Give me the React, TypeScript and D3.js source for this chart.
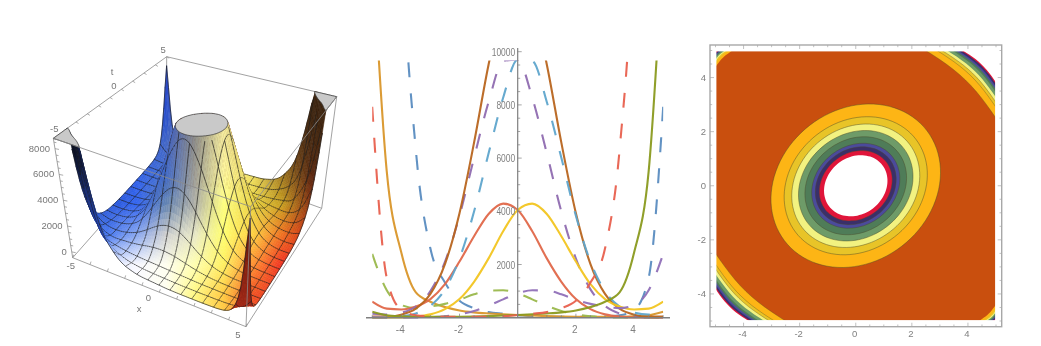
import React, { useMemo } from "react";
import * as d3 from "d3";

// ---------- data: slices of the field f(x, t), sampled every 0.5 in x ----------
const xSamples = [-5,-4.5,-4,-3.5,-3,-2.5,-2,-1.5,-1,-0.5,0,0.5,1,1.5,2,2.5,3,3.5,4,4.5,5];
const tValues = [-5,-4,-3,-2,-1,0,1,2,3,4,5];
const sliceM5 = [90000,37000,15000,6300,2600,1320,640,360,210,150,100,50,35,30,30,35,50,90,290,1500,7930];
const sliceM4 = [14000,5500,2450,950,600,400,270,200,160,130,100,80,60,45,35,30,30,35,50,90,225];
const sliceM3 = [2400,1030,480,360,420,520,680,880,1020,1030,915,690,450,255,125,55,20,10,8,10,15];
const sliceM2 = [600,340,310,420,700,1260,2110,3060,3900,4290,4050,3250,2230,1350,700,320,125,40,12,5,3];
const sliceM1 = [150,120,190,420,1000,2100,3830,6010,8110,9650,9700,8270,6180,3990,2225,1065,444,157,49,14,4];
const slice0 = [40,40,115,345,895,2015,3930,6580,9520,11890,12800,11890,9520,6580,3930,2015,895,345,115,40,40];
const sliceP1 = [4,14,49,157,444,1065,2225,3990,6180,8270,9700,9650,8110,6010,3830,2100,1000,420,190,120,150];
const sliceP2 = [3,5,12,40,125,320,700,1350,2230,3250,4050,4290,3900,3060,2110,1260,700,420,310,340,600];
const sliceP3 = [15,10,8,10,20,55,125,255,450,690,915,1030,1020,880,680,520,420,360,480,1030,2400];
const sliceP4 = [225,90,50,35,30,30,35,45,60,80,100,130,160,200,270,400,600,950,2450,5500,14000];
const sliceP5 = [7930,1500,290,90,50,35,30,30,35,50,100,150,210,360,640,1320,2600,6300,15000,37000,90000];
const slices = [sliceM5,sliceM4,sliceM3,sliceM2,sliceM1,slice0,sliceP1,sliceP2,sliceP3,sliceP4,sliceP5];
const sliceColors = ["#5A8CC0","#D9962A","#9AB84C","#E0684A","#8F6BB0","#B8651F","#5FA5CC","#F2C521","#9070B8","#8A9A1F","#E8604E"];
const sliceDashed = [true,false,true,false,true,false,true,false,true,false,true];

// contour plot: how far each level reaches (top of ring, along the edge in corners)
const ringReach = [3.02,2.55,2.28,2.04,1.81,1.57,1.44,1.3,1.13];
const bandColors = ["#FDB515","#E8C428","#F2F280","#6E9B68","#4F7C58","#4B4A9C","#3A2F6A","#E0153A","#FFFFFF"];
const wideCornerReach = [2.5,2.9,3.08,3.26,3.44,3.55,3.65,3.75,3.82];
const smallCornerReach = [4.39,4.52,4.6,4.66,4.72,4.78,4.83,4.88,4.94];
const bottomCornerColor = "#C94F0E";

const axisTicksPanel2X = [-4,-2,2,4];
const axisTicksPanel2Y = [2000,4000,6000,8000,10000];
const axisTicksPanel3 = [-4,-2,0,2,4];
const zTicks3D = [0,2000,4000,6000,8000];

// ---------- 3D frame ----------
const Z_MIN = -450, Z_MAX = 8800;
const box = {
  lb: [72.7,257.7], fb: [246,326.7], rb: [321.7,208.3], bb: [166,152],
  lt: [53.3,138.3], bt: [166.7,56.7], rt: [336.7,96.7], ft: [250.7,206.7],
};
function project(x:number,t:number,z:number):[number,number]{
  const u=(x+5)/10,v=(t+5)/10,w=(z-Z_MIN)/(Z_MAX-Z_MIN);
  const m=(a:number[],b:number[],s:number,i:number)=>a[i]+(b[i]-a[i])*s;
  const out:[number,number]=[0,0];
  for(let i=0;i<2;i++){
    const bottomFront=m(box.lb,box.fb,u,i), bottomBack=m(box.bb,box.rb,u,i);
    const topFront=m(box.lt,box.ft,u,i), topBack=m(box.bt,box.rt,u,i);
    const low=bottomFront+(bottomBack-bottomFront)*v, high=topFront+(topBack-topFront)*v;
    out[i]=low+(high-low)*w;
  }
  return out;
}

// screen-space tint sampled across the surface picture
const tintX=[50,79,108,137,166,195,224,253,282,311,340];
const tintY=[55,85,115,145,175,205,235,265,295,325];
const tintRows=[
"#1a2a60 #1a2a60 #2040a0 #2848c0 #2040b0 #c8c8c8 #f8f0a0 #c0a040 #5a3a18 #3a2410 #3a2410",
"#1a2a60 #1a2a60 #2040a0 #2848c0 #2848c8 #a0a0a0 #f8f0a0 #c0a040 #5a3a18 #3a2410 #3a2410",
"#101828 #101828 #2040a0 #2848c0 #2850d0 #8a8a88 #f4eca0 #c0a040 #5a3a18 #3c2410 #3a2008",
"#101830 #101830 #1a3090 #2850d8 #4468c8 #90908c #f8f0a0 #d8c050 #704818 #4a2a10 #3a1c08",
"#182448 #182c70 #2040b0 #3060e8 #4470d0 #a0a098 #fff8a0 #f0e060 #a07820 #5a2810 #4a1c08",
"#2040a0 #2040a0 #2a58d8 #3264f0 #6484b0 #b0b0a8 #ffff80 #e8d040 #c8a020 #8a3010 #6a2008",
"#4070e0 #4070e0 #4878f0 #8aa8f0 #d0d0d0 #e8e8c8 #ffff70 #ffd040 #f07020 #c82810 #a02010",
"#c0d0ff #c0d0ff #e0e8ff #f8f8ff #fffff0 #ffffb0 #fff060 #ff9030 #f03020 #e02818 #c02010",
"#ffffff #ffffff #ffffff #ffffff #fffff0 #fff880 #ffc840 #f05020 #e83020 #e02818 #c02010",
"#ffffff #ffffff #ffffff #ffffff #fffff0 #fff880 #ffc840 #f05020 #e83020 #e02818 #c02010",
].map(r=>r.split(" ").map(c=>d3.rgb(c)));
function tint(px:number,py:number){
  const fx=Math.max(0,Math.min(tintX.length-1.001,(px-tintX[0])/(tintX[1]-tintX[0])));
  const fy=Math.max(0,Math.min(tintY.length-1.001,(py-tintY[0])/(tintY[1]-tintY[0])));
  const i=Math.floor(fx),j=Math.floor(fy),a=fx-i,b=fy-j;
  const mix=(k:"r"|"g"|"b")=>(tintRows[j][i][k]*(1-a)+tintRows[j][i+1][k]*a)*(1-b)+(tintRows[j+1][i][k]*(1-a)+tintRows[j+1][i+1][k]*a)*b;
  return `rgb(${mix("r")|0},${mix("g")|0},${mix("b")|0})`;
}

function cr(p0:number,p1:number,p2:number,p3:number,s:number){
  return 0.5*((2*p1)+(-p0+p2)*s+(2*p0-5*p1+4*p2-p3)*s*s+(-p0+3*p1-3*p2+p3)*s*s*s);
}
const logRows=slices.map(r=>r.map(v=>Math.log(v)));
function rowAt(r:number[],x:number){
  const f=(x+5)/0.5; const i=Math.min(r.length-2,Math.floor(f)); const s=f-i;
  const g=(k:number)=>r[Math.max(0,Math.min(r.length-1,k))];
  return cr(g(i-1),g(i),g(i+1),g(i+2),s);
}
function fieldAt(x:number,t:number){
  const f=t+5; const i=Math.min(9,Math.floor(f)); const s=f-i;
  const g=(k:number)=>rowAt(logRows[Math.max(0,Math.min(10,k))],x);
  return Math.exp(cr(g(i-1),g(i),g(i+1),g(i+2),s));
}

function Surface(){
  const N=80, MESH=5;
  const {items,caps}=useMemo(()=>{
    const Z:number[][]=[];const P:[number,number][][]=[];
    const flat:number[]=[];
    for(let i=0;i<=N;i++){
      Z.push([]);P.push([]);
      const t=-5+10*i/N;
      for(let j=0;j<=N;j++){
        const x=-5+10*j/N;
        const z=fieldAt(x,t);
        Z[i].push(z);flat.push(z);
        P[i].push(project(x,t,Math.min(z,Z_MAX)));
      }
    }
    const list:{k:number,el:any}[]=[];
    const pth=(pts:[number,number][])=>"M"+pts.map(p=>p[0].toFixed(1)+","+p[1].toFixed(1)).join("L")+"Z";
    for(let i=0;i<N;i++)for(let j=0;j<N;j++){
      const zs=[Z[i][j],Z[i][j+1],Z[i+1][j+1],Z[i+1][j]];
      if(zs.every(z=>z>=Z_MAX))continue;
      const a=P[i][j],b=P[i][j+1],c=P[i+1][j+1],d=P[i+1][j];
      const area=((c[0]-a[0])*(d[1]-b[1])-(c[1]-a[1])*(d[0]-b[0]));
      const cx=(a[0]+b[0]+c[0]+d[0])/4,cy=(a[1]+b[1]+c[1]+d[1])/4;
      let col=tint(cx,cy);
      if(area>0){
        if(cx>150){ const s=Math.max(0,Math.min(1,(cy-200)/120)); col=d3.interpolateRgb("#5a1408","#a82a1a")(s); }
        else { const s=Math.max(0,Math.min(1,(cy-150)/80)); col=d3.interpolateRgb("#0c1020","#2a4cc0")(s); }
      }
      list.push({k:j-i,el:<path key={`q${i}-${j}`} d={pth([a,b,c,d])} fill={col} stroke={col} strokeWidth={0.5}/>});
    }
    const seg=(p:[number,number],q:[number,number],key:string)=><line key={key} x1={p[0].toFixed(1)} y1={p[1].toFixed(1)} x2={q[0].toFixed(1)} y2={q[1].toFixed(1)} stroke="#1c1c1c" strokeWidth={0.75} strokeOpacity={0.9}/>;
    for(let i=0;i<=N;i+=MESH)for(let j=0;j<N;j++){
      if(Z[i][j]<Z_MAX&&Z[i][j+1]<Z_MAX) list.push({k:j-i+1.5,el:seg(P[i][j],P[i][j+1],`a${i}-${j}`)});
    }
    for(let j=0;j<=N;j+=MESH)for(let i=0;i<N;i++){
      if(Z[i][j]<Z_MAX&&Z[i+1][j]<Z_MAX) list.push({k:j-i+0.5,el:seg(P[i][j],P[i+1][j],`b${i}-${j}`)});
    }
    list.sort((a,b)=>a.k-b.k);
    const cs=d3.contours().size([N+1,N+1]).smooth(true).thresholds([Z_MAX])(flat);
    const capPaths:string[]=[];
    cs.forEach(c=>c.coordinates.forEach(poly=>poly.forEach(ring=>{
      const pts=ring.map(([gx,gy]:number[])=>{
        const x=-5+10*Math.max(0,Math.min(N,gx-0.5))/N,t=-5+10*Math.max(0,Math.min(N,gy-0.5))/N;
        return project(x,t,Z_MAX);
      });
      capPaths.push(pth(pts as any));
    })));
    return {items:list.map(l=>l.el),caps:capPaths};
  },[]);
  const edge=(a:number[],b:number[],key:string)=><line key={key} x1={a[0]} y1={a[1]} x2={b[0]} y2={b[1]} stroke="#8a8a8a" strokeWidth={0.8}/>;
  const labelStyle={fontFamily:"Liberation Sans, sans-serif",fontSize:9.5,fill:"#777"};
  const ticks:any[]=[];
  d3.range(0,8501,500).forEach(z=>{const p=project(-5,-5,z);const major=z%2000===0;ticks.push(<line key={"zt"+z} x1={p[0]} y1={p[1]} x2={p[0]+(major?4:2.5)} y2={p[1]+(major?0.8:0.5)} stroke="#8a8a8a" strokeWidth={0.7}/>)});
  d3.range(-5,5.01,1).forEach(x=>{const p=project(x,-5,Z_MIN);ticks.push(<line key={"xt"+x} x1={p[0]} y1={p[1]} x2={p[0]+1} y2={p[1]-3} stroke="#8a8a8a" strokeWidth={0.7}/>)});
  d3.range(-5,5.01,1).forEach(t=>{const p=project(-5,t,Z_MAX);ticks.push(<line key={"tt"+t} x1={p[0]} y1={p[1]} x2={p[0]+2.5} y2={p[1]+1.5} stroke="#8a8a8a" strokeWidth={0.7}/>)});
  const pL=(x:number,t:number,z:number,dx:number,dy:number)=>{const p=project(x,t,z);return {x:p[0]+dx,y:p[1]+dy};};
  return <g>
    {edge(box.lb,box.bb,"e1")}{edge(box.bb,box.rb,"e2")}{edge(box.bb,box.bt,"e3")}
    {edge(box.lt,box.bt,"e4")}{edge(box.bt,box.rt,"e5")}{edge(box.lb,box.lt,"e6")}{edge(box.rb,box.rt,"e7")}
    {edge(box.lb,box.fb,"e8")}{edge(box.fb,box.rb,"e9")}
    {ticks}
    {items}
    {caps.map((d,i)=><path key={i} d={d} fill="#C9C9C9" stroke="#333" strokeWidth={0.7}/>)}
    {edge(box.lt,box.ft,"f1")}{edge(box.rt,box.ft,"f2")}{edge(box.fb,box.ft,"f3")}
    {zTicks3D.map(z=>{const p=pL(-5,-5,z,-5,3);return <text key={z} {...p} textAnchor="end" {...labelStyle}>{z}</text>})}
    <text {...pL(-5,-5,Z_MIN,-2,11)} textAnchor="middle" {...labelStyle}>-5</text>
    <text {...pL(0,-5,Z_MIN,-11,9)} textAnchor="middle" {...labelStyle}>0</text>
    <text {...pL(5,-5,Z_MIN,-8,11)} textAnchor="middle" {...labelStyle}>5</text>
    <text x={139} y={312} textAnchor="middle" {...labelStyle}>x</text>
    <text {...pL(-5,-5,Z_MAX,1,-6)} textAnchor="middle" {...labelStyle}>-5</text>
    <text {...pL(-5,0,Z_MAX,4,-9)} textAnchor="middle" {...labelStyle}>0</text>
    <text {...pL(-5,5,Z_MAX,-3.5,-4)} textAnchor="middle" {...labelStyle}>5</text>
    <text x={112} y={75} textAnchor="middle" {...labelStyle}>t</text>
  </g>;
}

function SlicePlot(){
  const x=d3.scaleLinear().domain([-5,5]).range([372.2,663.2]);
  const y=d3.scaleLinear().domain([0,10000]).range([317.7,51.7]);
  const top=y(9670);
  const line=d3.line<number>().x((_,i)=>x(xSamples[i])).y(v=>y(v)).curve(d3.curveMonotoneX);
  const grey="#7f7f7f";
  const fs={fontFamily:"Liberation Sans, sans-serif",fill:"#808080"};
  return <g>
    <defs><clipPath id="sliceClip"><rect x={x(-5)} y={top} width={x(5)-x(-5)} height={y(0)-top+1.5}/></clipPath></defs>
    <g clipPath="url(#sliceClip)" fill="none">
      {slices.map((s,i)=><path key={tValues[i]} d={line(s)!} stroke={sliceColors[i]} strokeWidth={2.1} strokeDasharray={sliceDashed[i]?"15 16":undefined} opacity={0.95}/>)}
    </g>
    <line x1={366} x2={670} y1={y(0)} y2={y(0)} stroke={grey} strokeWidth={1.6}/>
    <line x1={x(0)} x2={x(0)} y1={48} y2={y(0)} stroke={grey} strokeWidth={1.2}/>
    {d3.range(-5,5.01,0.5).map(v=><line key={v} x1={x(v)} x2={x(v)} y1={y(0)} y2={y(0)-(v%2===0?4:2.5)} stroke={grey} strokeWidth={0.7}/>)}
    {d3.range(500,10001,500).map(v=><line key={v} x1={x(0)} x2={x(0)+(v%2000===0?4:2.5)} y1={y(v)} y2={y(v)} stroke={grey} strokeWidth={0.7}/>)}
    {axisTicksPanel2X.map(v=><text key={v} x={x(v)-1} y={333} textAnchor="middle" fontSize={10} {...fs}>{v}</text>)}
    {axisTicksPanel2Y.map(v=>{const w=String(v).length*4.7;return <text key={v} x={x(0)-2.5-w} y={y(v)+4} fontSize={11.5} textLength={w} lengthAdjust="spacingAndGlyphs" {...fs}>{v}</text>})}
  </g>;
}

function ContourPlot(){
  const x=d3.scaleLinear().domain([-5,5]).range([715.5,996]);
  const y=d3.scaleLinear().domain([-5,5]).range([321,50.5]);
  const curve=d3.line<number[]>().x(p=>x(p[0])).y(p=>y(p[1])).curve(d3.curveCatmullRomClosed);
  const open=d3.line<number[]>().x(p=>x(p[0])).y(p=>y(p[1])).curve(d3.curveLinear);
  const ringPts=(r:number)=>d3.range(0,Math.PI*2,Math.PI/24).map(a=>{
    const u=1.08*r*Math.cos(a),v=0.915*r*Math.sin(a);
    return [(u-v)*Math.SQRT1_2,(u+v)*Math.SQRT1_2];
  });
  const sweep=(c:number,sx:number,sy:number)=>{
    const pts:number[][]=[];
    const n=12;
    for(let k=0;k<=n;k++){
      const s=k/n; const bulge=0.16*Math.sin(Math.PI*s)*(5-c)/(5-2.5);
      const px=c+(5-c)*s+bulge, py=5-(5-c)*s+bulge;
      pts.push([sx*px,sy*py]);
    }
    return pts;
  };
  const corners=[[1,1],[-1,-1]];
  const smalls=[[-1,1],[1,-1]];
  const cornerFill=(pts:number[][],sx:number,sy:number)=>open([...pts,[sx*6,sy*pts[pts.length-1][1]*sy],[sx*6,sy*6],[sx*pts[0][0]*sx,sy*6]])!+"Z";
  const grey="#a8a8a8";
  const fs={fontFamily:"Liberation Sans, sans-serif",fontSize:9.5,fill:"#808080"};
  return <g>
    <defs><clipPath id="cClip"><rect x={x(-5)} y={y(5)} width={x(5)-x(-5)} height={y(-5)-y(5)}/></clipPath></defs>
    <rect x={710} y={45} width={291.7} height={281.7} fill="#fff" stroke={grey} strokeWidth={1.4}/>
    <g clipPath="url(#cClip)">
      <rect x={x(-5)} y={y(5)} width={x(5)-x(-5)} height={y(-5)-y(5)} fill={bottomCornerColor}/>
      {corners.map(([sx,sy],q)=>wideCornerReach.map((c,i)=><path key={"w"+q+i} d={cornerFill(sweep(c,sx,sy),sx,sy)} fill={bandColors[i]} stroke={i<3?"#6a5a20":"none"} strokeWidth={0.4}/>))}
      {smalls.map(([sx,sy],q)=>smallCornerReach.map((c,i)=><path key={"s"+q+i} d={cornerFill(sweep(c,sx,sy),sx,sy)} fill={bandColors[i]}/>))}
      {ringReach.map((r,i)=><path key={r} d={curve(ringPts(r))!} fill={bandColors[i]} stroke={i<8?"#4a4a2a":"none"} strokeWidth={0.45}/>)}
    </g>
    <rect x={x(-5)} y={y(5)} width={x(5)-x(-5)} height={y(-5)-y(5)} fill="none" stroke="#fff" strokeWidth={1.8}/>
    {d3.range(-5,5.01,0.5).map(v=>{const m=v%2===0?4:2.2;return <g key={v} stroke={grey} strokeWidth={0.7}>
      <line x1={x(v)} x2={x(v)} y1={45} y2={45+m}/><line x1={x(v)} x2={x(v)} y1={326.7} y2={326.7-m}/>
      <line y1={y(v)} y2={y(v)} x1={710} x2={710+m}/><line y1={y(v)} y2={y(v)} x1={1001.7} x2={1001.7-m}/></g>})}
    {axisTicksPanel3.map(v=><text key={"x"+v} x={x(v)-1} y={337} textAnchor="middle" {...fs}>{v}</text>)}
    {axisTicksPanel3.map(v=><text key={"y"+v} x={706} y={y(v)+3.5} textAnchor="end" {...fs}>{v}</text>)}
  </g>;
}

export default function App(){
  return <svg width={1041} height={346} viewBox="0 0 1041 346" style={{position:"fixed",left:0,top:0,display:"block",background:"#fff",filter:"blur(0.45px)"}}>
    <Surface/>
    <SlicePlot/>
    <ContourPlot/>
  </svg>;
}
